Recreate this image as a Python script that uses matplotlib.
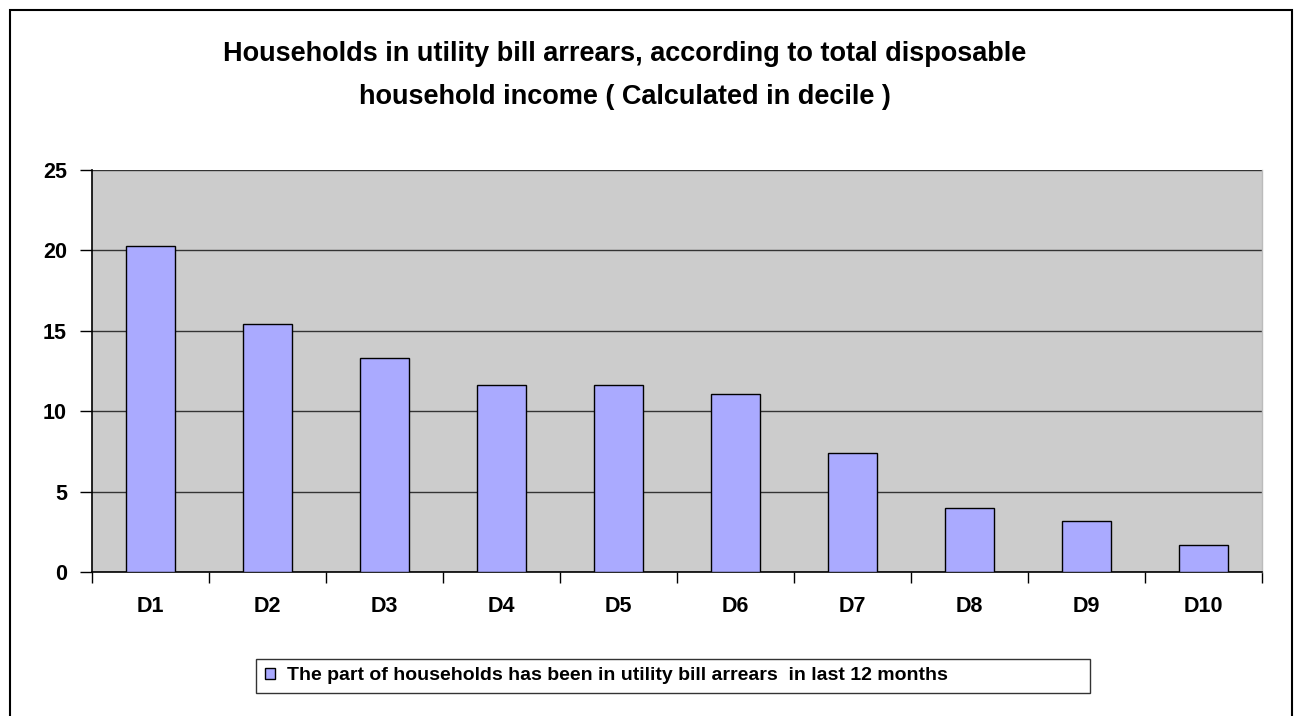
import matplotlib
matplotlib.use("Agg")
import matplotlib.pyplot as plt
from matplotlib.patches import Rectangle

categories = ["D1", "D2", "D3", "D4", "D5", "D6", "D7", "D8", "D9", "D10"]
values = [20.3, 15.4, 13.3, 11.6, 11.6, 11.1, 7.4, 4.0, 3.2, 1.7]
yticks = [0, 5, 10, 15, 20, 25]
series_label = "The part of households has been in utility bill arrears  in last 12 months"
title = "Households in utility bill arrears, according to total disposable\nhousehold income ( Calculated in decile )"

plt.rcParams['font.family'] = ['Liberation Sans', 'DejaVu Sans']

W, H = 1303, 716
fig = plt.figure(figsize=(W / 100, H / 100), dpi=100)
fig.patch.set_facecolor('white')

# outer chart border
fig.add_artist(Rectangle((10 / W, -0.01), (1292 - 10) / W, (H - 10) / H + 0.01,
                         transform=fig.transFigure, fill=False,
                         edgecolor='black', linewidth=1.5))

left, right, top, bottom = 92, 1262, 170, 572
ax = fig.add_axes([left / W, 1 - bottom / H, (right - left) / W, (bottom - top) / H])
ax.set_facecolor('#CCCCCC')

x = list(range(len(categories)))
bars = ax.bar(x, values, width=0.42, color='#AAAAFF', edgecolor='black',
              linewidth=1.0, label=series_label, zorder=3)

ax.set_xlim(-0.5, len(categories) - 0.5)
ax.set_ylim(0, 25)
ax.set_yticks(yticks)
ax.set_yticklabels([str(t) for t in yticks], fontsize=15.5, fontweight='bold')
ax.yaxis.grid(True, color='#333333', linewidth=1.0, zorder=1)
ax.set_axisbelow(True)

# category labels centered, ticks at boundaries
ax.set_xticks([i - 0.5 for i in range(len(categories) + 1)])
ax.set_xticklabels([])
ax.set_xticks(x, minor=True)
ax.set_xticklabels(categories, minor=True, fontsize=15.5, fontweight='bold')
ax.tick_params(axis='x', which='minor', length=0, pad=17)
ax.tick_params(axis='x', which='major', length=8, width=1, direction='out', color='black')
ax.tick_params(axis='y', length=9, width=1, direction='out', pad=9, color='black')

for s in ['left', 'bottom']:
    ax.spines[s].set_color('black')
    ax.spines[s].set_linewidth(1.2)
ax.spines['top'].set_visible(False)
ax.spines['right'].set_color('#BBBBBB')
ax.spines['right'].set_linewidth(1.0)

fig.text(625 / W, 1 - 75.5 / H, title, ha='center', va='center', fontsize=19.5,
         fontweight='bold', linespacing=1.85)

leg = fig.legend(handles=[bars], labels=[series_label],
                 loc='lower left',
                 bbox_to_anchor=(256 / W, 1 - 693 / H, (1090 - 256) / W, 40 / H),
                 mode='expand', fancybox=False, frameon=True,
                 prop={'weight': 'bold', 'size': 14},
                 handlelength=0.55, handleheight=0.55, handletextpad=0.6,
                 borderaxespad=0, borderpad=0.45)
leg.get_frame().set_edgecolor('black')
leg.get_frame().set_linewidth(1.0)

fig.savefig("out.png", dpi=100)
